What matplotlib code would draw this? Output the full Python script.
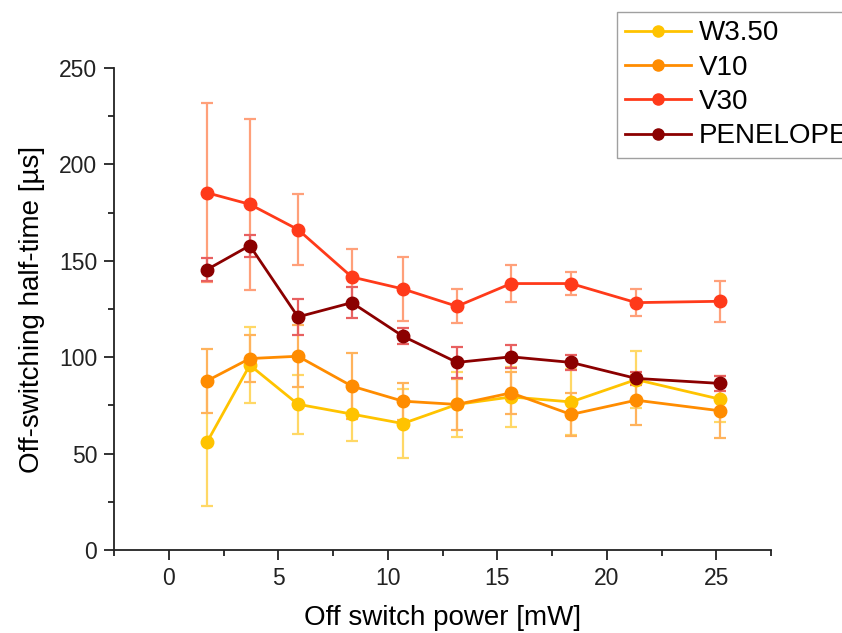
import matplotlib.pyplot as plt
import numpy as np

plt.rcParams['font.family'] = ['Liberation Sans', 'DejaVu Sans']

# off switch power [mW]
power = [1.74, 3.70, 5.90, 8.36, 10.69, 13.16, 15.63, 18.37, 21.34, 25.18]

# half-times [us] and their standard deviations
w350 = [55.8, 95.9, 75.6, 70.5, 65.6, 75.5, 79.4, 76.8, 88.4, 78.2]
w350_err = [33.0, 19.7, 15.2, 13.9, 17.8, 17.0, 15.5, 17.0, 14.7, 12.0]

v10 = [87.7, 99.3, 100.5, 85.0, 77.2, 75.5, 81.5, 70.3, 77.7, 72.2]
v10_err = [16.4, 12.0, 16.0, 17.0, 9.6, 13.0, 11.0, 11.2, 13.0, 14.0]

v30 = [185.3, 179.3, 166.2, 141.6, 135.4, 126.4, 138.2, 138.2, 128.3, 129.0]
v30_err = [46.4, 44.5, 18.4, 14.4, 16.6, 8.8, 9.8, 6.0, 7.0, 10.6]

penelope = [145.4, 157.9, 120.9, 128.3, 110.9, 97.3, 100.2, 97.3, 89.0, 86.4]
penelope_err = [6.0, 5.7, 9.3, 8.0, 4.0, 8.0, 6.0, 4.0, 3.3, 4.0]

labels = ['W3.50', 'V10', 'V30', 'PENELOPE']
colors = ['#FFC300', '#FF8C00', '#FF3A1A', '#8B0000']
err_colors = ['#FFD866', '#FFB35C', '#FFA07A', '#E86060']

fig = plt.figure(figsize=(8.42, 6.33), dpi=100)
ax = fig.add_axes([0.1354, 0.1311, 0.7803, 0.7615])

series = [(w350, w350_err), (v10, v10_err), (v30, v30_err), (penelope, penelope_err)]
for (y, e), lab, c, ec in zip(series, labels, colors, err_colors):
    ax.errorbar(power, y, yerr=e, fmt='none', ecolor=ec, elinewidth=1.6,
                capsize=4.2, capthick=1.6, zorder=2)
    ax.plot(power, y, '-o', color=c, lw=2.0, ms=9, mec=c, label=lab, zorder=3)

ax.set_xlim(-2.5, 27.5)
ax.set_ylim(0, 250)
ax.set_xticks([0, 5, 10, 15, 20, 25])
ax.set_xticks(np.arange(-2.5, 27.6, 2.5), minor=True)
ax.set_yticks([0, 50, 100, 150, 200, 250])
ax.set_yticks(np.arange(0, 251, 25), minor=True)

for side in ['top', 'right']:
    ax.spines[side].set_visible(False)
for side in ['left', 'bottom']:
    ax.spines[side].set_linewidth(1.3)
    ax.spines[side].set_color('#222222')

ax.tick_params(which='major', direction='out', length=7, width=1.3,
               labelsize=16.5, colors='#222222', pad=5)
ax.tick_params(which='minor', direction='out', length=4, width=1.3,
               colors='#222222')

ax.set_xlabel('Off switch power [mW]', fontsize=20, labelpad=11)
ax.set_ylabel('Off-switching half-time [µs]', fontsize=20, labelpad=10)

leg = fig.legend(loc='upper left', bbox_to_anchor=(617 / 842, 1 - 12 / 633),
                 fontsize=20, frameon=True, fancybox=False, borderpad=0.3,
                 handlelength=2.35, handletextpad=0.3, labelspacing=0.3,
                 borderaxespad=0)
leg.get_frame().set_edgecolor('#888888')
leg.get_frame().set_linewidth(1.0)
for h in leg.legend_handles:
    h.set_markersize(8)

fig.savefig('out.png', dpi=100)
